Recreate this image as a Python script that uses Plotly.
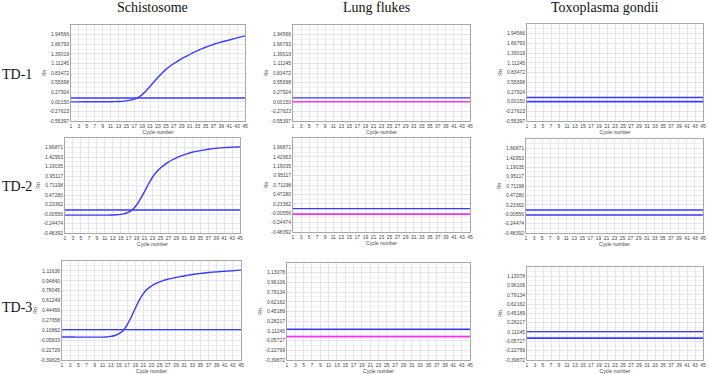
import plotly.graph_objects as go

# ---------------- data ----------------
cycles = list(range(1, 46))
x_tick_labels = [str(c) for c in range(1, 46, 2)]

col_titles = ["Schistosome", "Lung flukes", "Toxoplasma gondii"]
row_titles = ["TD-1", "TD-2", "TD-3"]

# y tick labels per panel (row, col)
yticks_row1 = ["-0.55397", "-0.27623", "0.00150", "0.27924", "0.55698",
               "0.83472", "1.11245", "1.39019", "1.66793", "1.94566"]
yticks_row2 = ["-0.48392", "-0.24474", "-0.00556", "0.23362", "0.47280",
               "0.71198", "0.95117", "1.19035", "1.42953", "1.66871"]
yticks_row3_c1 = ["-0.39625", "-0.22729", "-0.05833", "0.10862", "0.27658",
                  "0.44456", "0.61249", "0.78045", "0.94840", "1.11636"]
yticks_row3_c23 = ["-0.39872", "-0.22799", "-0.05727", "0.11245", "0.28217",
                   "0.45189", "0.62162", "0.79134", "0.96106", "1.13078"]

# amplification curves (Schistosome), one value per cycle 1..45
schisto_td1 = [0.000, 0.000, 0.000, 0.001, 0.001, 0.001, 0.002, 0.002, 0.003, 0.003,
               0.004, 0.006, 0.010, 0.015, 0.030, 0.050, 0.080, 0.130, 0.210, 0.320,
               0.450, 0.580, 0.710, 0.830, 0.940, 1.030, 1.110, 1.180, 1.250, 1.310,
               1.370, 1.430, 1.480, 1.530, 1.580, 1.620, 1.660, 1.700, 1.730, 1.760,
               1.790, 1.820, 1.850, 1.880, 1.910]
schisto_td2 = [-0.035, -0.035, -0.035, -0.035, -0.035, -0.035, -0.035, -0.035, -0.035, -0.034,
               -0.034, -0.033, -0.030, -0.025, -0.015, 0.005, 0.040, 0.110, 0.220, 0.380,
               0.560, 0.750, 0.920, 1.050, 1.150, 1.230, 1.300, 1.360, 1.410, 1.450,
               1.490, 1.520, 1.550, 1.570, 1.590, 1.610, 1.625, 1.640, 1.650, 1.660,
               1.665, 1.670, 1.675, 1.680, 1.685]
schisto_td3 = [-0.005, -0.006, -0.007, -0.007, -0.008, -0.008, -0.008, -0.008, -0.008, -0.008,
               -0.008, -0.005, 0.005, 0.020, 0.050, 0.100, 0.200, 0.330, 0.480, 0.620,
               0.730, 0.810, 0.860, 0.900, 0.930, 0.955, 0.975, 0.990, 1.005, 1.020,
               1.030, 1.045, 1.055, 1.065, 1.075, 1.080, 1.090, 1.095, 1.100, 1.105,
               1.110, 1.115, 1.120, 1.125, 1.130]

# flat (negative) curve levels for Lung flukes and Toxoplasma gondii
lung_levels = [0.003, -0.030, 0.010]
toxo_levels = [0.000, -0.025, 0.001]

# threshold levels [row][col]
thresholds = [[0.110, 0.115, 0.120],
              [0.095, 0.110, 0.100],
              [0.119, 0.140, 0.120]]

# ---------------- layout geometry (pixels) ----------------
W, H = 708, 374
panel_px = [
    [(71, 245, 25, 121), (293, 470, 25, 121), (527, 703, 24, 121)],
    [(65, 240, 138, 233), (293, 470, 138, 232), (526, 703, 139, 233)],
    [(62, 241, 261, 360), (287, 470, 263, 360), (527, 703, 267, 360)],
]

BLUE = "#3a3aff"
MAGENTA = "#ff33ee"

fig = go.Figure()
layout = dict(
    width=W, height=H, margin=dict(l=0, r=0, t=0, b=0, autoexpand=False),
    paper_bgcolor="white", plot_bgcolor="white", showlegend=False,
    annotations=[],
)

tick_sets = [[yticks_row1, yticks_row1, yticks_row1],
             [yticks_row2, yticks_row2, yticks_row2],
             [yticks_row3_c1, yticks_row3_c23, yticks_row3_c23]]
schisto = [schisto_td1, schisto_td2, schisto_td3]

small = dict(family="Liberation Sans", size=5, color="#444")

idx = 0
for r in range(3):
    for c in range(3):
        idx += 1
        xa = "x" if idx == 1 else f"x{idx}"
        ya = "y" if idx == 1 else f"y{idx}"
        xk = "xaxis" if idx == 1 else f"xaxis{idx}"
        yk = "yaxis" if idx == 1 else f"yaxis{idx}"
        x0, x1, y0, y1 = panel_px[r][c]
        labels = tick_sets[r][c]
        vals = [float(v) for v in labels]
        step = (vals[-1] - vals[0]) / (len(vals) - 1)
        layout[xk] = dict(
            domain=[x0 / W, x1 / W], anchor=ya, range=[1, 45], automargin=False,
            tickmode="array", tickvals=[int(t) for t in x_tick_labels], ticktext=x_tick_labels,
            tickfont=small,
            showgrid=True, gridcolor="#e4e4ee", gridwidth=1,
            showline=True, linecolor="#a8a8a8", linewidth=1, mirror=True,
            ticks="", zeroline=False,
            title=dict(text="Cycle number", standoff=1, font=small),
        )
        layout[yk] = dict(
            domain=[1 - y1 / H, 1 - y0 / H], anchor=xa, automargin=False,
            range=[vals[0], vals[-1] + step],
            tickmode="array", tickvals=vals, ticktext=labels,
            tickfont=small,
            showgrid=True, gridcolor="#e4e4ee", gridwidth=1,
            minor=dict(showgrid=True, gridcolor="#f0f0f5", tickvals=[v + step / 2 for v in vals]),
            showline=True, linecolor="#a8a8a8", linewidth=1, mirror=True,
            ticks="", zeroline=False,
            title=dict(text="Rn", standoff=2, font=small),
        )
        # threshold line
        thr = thresholds[r][c]
        fig.add_trace(go.Scatter(x=[cycles[0], cycles[-1]], y=[thr, thr], mode="lines",
                                 line=dict(color=BLUE, width=1.4), xaxis=xa, yaxis=ya,
                                 hoverinfo="skip"))
        if c == 0:
            fig.add_trace(go.Scatter(x=cycles, y=schisto[r], mode="lines",
                                     line=dict(color=BLUE, width=1.4, shape="spline"),
                                     xaxis=xa, yaxis=ya))
        elif c == 1:
            lv = lung_levels[r]
            fig.add_trace(go.Scatter(x=[cycles[0], cycles[-1]], y=[lv, lv], mode="lines",
                                     line=dict(color=MAGENTA, width=1.6),
                                     xaxis=xa, yaxis=ya))
        else:
            lv = toxo_levels[r]
            fig.add_trace(go.Scatter(x=[cycles[0], cycles[-1]], y=[lv, lv], mode="lines",
                                     line=dict(color=BLUE, width=1.6),
                                     xaxis=xa, yaxis=ya))

# column titles
col_centers = [152, 377, 605]
for t, cx in zip(col_titles, col_centers):
    layout["annotations"].append(dict(
        text=t, x=cx / W, y=1, xref="paper", yref="paper",
        xanchor="center", yanchor="top", showarrow=False, borderpad=0, yshift=1,
        font=dict(family="Liberation Serif", size=14, color="#111")))

# row titles
row_centers = [74, 186, 307]
for t, cy in zip(row_titles, row_centers):
    layout["annotations"].append(dict(
        text=t, x=0, y=1 - cy / H, xref="paper", yref="paper",
        xanchor="left", yanchor="middle", showarrow=False,
        font=dict(family="Liberation Serif", size=14, color="#111")))

fig.update_layout(**layout)
fig.write_html("out.html", config={"displayModeBar": False},
               post_script="document.body.style.margin='0';document.body.style.overflow='hidden';")
